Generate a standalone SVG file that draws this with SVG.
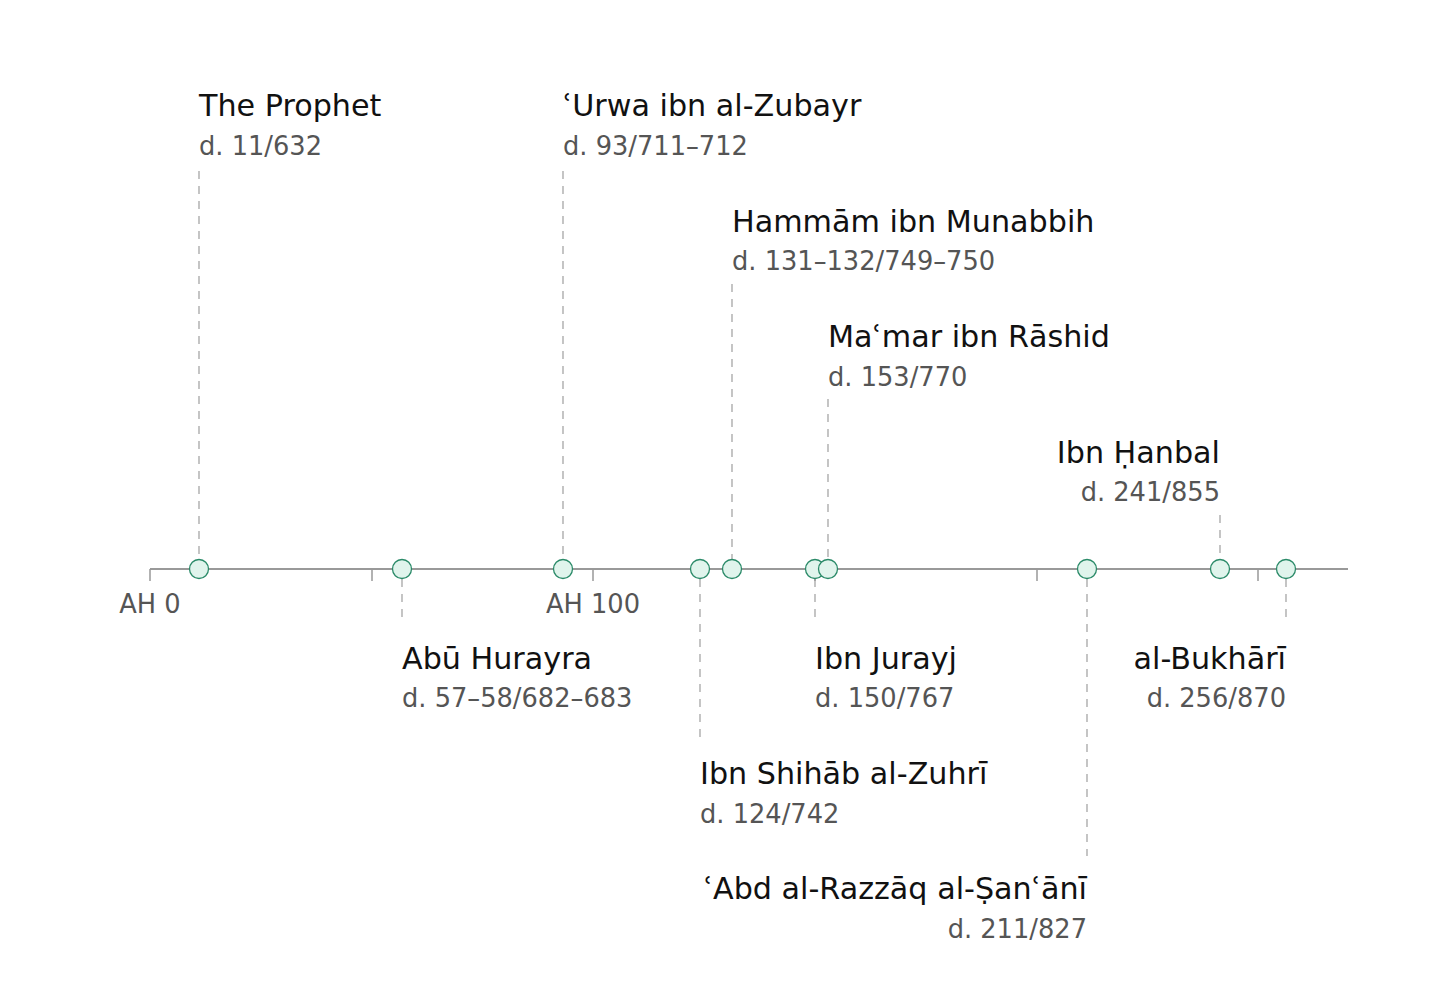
<svg xmlns="http://www.w3.org/2000/svg" width="1456" height="989" viewBox="0 0 1456 989">
<style>
.t{font-family:"DejaVu Sans",sans-serif;font-size:30.2px;fill:#111}
.s{font-family:"DejaVu Sans",sans-serif;font-size:25.7px;fill:#555}
.ax{font-family:"DejaVu Sans",sans-serif;font-size:25.7px;fill:#555;text-anchor:middle}
.e{text-anchor:end}
.d{stroke:#a6a6a6;stroke-width:1.3;stroke-dasharray:8,7;fill:none}
.tk{stroke:#999;stroke-width:1.5}
.c{fill:#e0f4ec;stroke:#2a8a68;stroke-width:1.3}
</style>
<rect width="1456" height="989" fill="#fff"/>
<g id="connectors">
<line class="d" x1="199" y1="171" x2="199" y2="560"/>
<line class="d" x1="563" y1="171" x2="563" y2="560"/>
<line class="d" x1="732" y1="284" x2="732" y2="560"/>
<line class="d" x1="828" y1="399" x2="828" y2="560"/>
<line class="d" x1="1220" y1="515" x2="1220" y2="560"/>
<line class="d" x1="402" y1="579" x2="402" y2="624"/>
<line class="d" x1="815" y1="579" x2="815" y2="624"/>
<line class="d" x1="1286" y1="579" x2="1286" y2="624"/>
<line class="d" x1="700" y1="579" x2="700" y2="740"/>
<line class="d" x1="1087" y1="579" x2="1087" y2="856"/>
</g>
<g id="axis">
<line x1="150" y1="569" x2="1348" y2="569" stroke="#999" stroke-width="2"/>
<line class="tk" x1="150" y1="569" x2="150" y2="581"/>
<line class="tk" x1="372" y1="569" x2="372" y2="581"/>
<line class="tk" x1="593" y1="569" x2="593" y2="581"/>
<line class="tk" x1="815" y1="569" x2="815" y2="581"/>
<line class="tk" x1="1037" y1="569" x2="1037" y2="581"/>
<line class="tk" x1="1258" y1="569" x2="1258" y2="581"/>
<text class="ax" x="150" y="613">AH 0</text>
<text class="ax" x="593" y="613">AH 100</text>
</g>
<g id="prophet"><circle class="c" cx="199" cy="569" r="9.5"/><text class="t" x="199" y="116">The Prophet</text><text class="s" x="199" y="155">d. 11/632</text></g>
<g id="abu-hurayra"><circle class="c" cx="402" cy="569" r="9.5"/><text class="t" x="402" y="669">Abū Hurayra</text><text class="s" x="402" y="707">d. 57–58/682–683</text></g>
<g id="urwa"><circle class="c" cx="563" cy="569" r="9.5"/><text class="t" x="563" y="116">ʿUrwa ibn al-Zubayr</text><text class="s" x="563" y="155">d. 93/711–712</text></g>
<g id="zuhri"><circle class="c" cx="700" cy="569" r="9.5"/><text class="t" x="700" y="784">Ibn Shihāb al-Zuhrī</text><text class="s" x="700" y="823">d. 124/742</text></g>
<g id="hammam"><circle class="c" cx="732" cy="569" r="9.5"/><text class="t" x="732" y="232">Hammām ibn Munabbih</text><text class="s" x="732" y="270">d. 131–132/749–750</text></g>
<g id="ibn-jurayj"><circle class="c" cx="815" cy="569" r="9.5"/><text class="t" x="815" y="669">Ibn Jurayj</text><text class="s" x="815" y="707">d. 150/767</text></g>
<g id="mamar"><circle class="c" cx="828" cy="569" r="9.5"/><text class="t" x="828" y="347">Maʿmar ibn Rāshid</text><text class="s" x="828" y="386">d. 153/770</text></g>
<g id="abd-al-razzaq"><circle class="c" cx="1087" cy="569" r="9.5"/><text class="t e" x="1087" y="899">ʿAbd al-Razzāq al-Ṣanʿānī</text><text class="s e" x="1087" y="938">d. 211/827</text></g>
<g id="ibn-hanbal"><circle class="c" cx="1220" cy="569" r="9.5"/><text class="t e" x="1220" y="463">Ibn Ḥanbal</text><text class="s e" x="1220" y="501">d. 241/855</text></g>
<g id="bukhari"><circle class="c" cx="1286" cy="569" r="9.5"/><text class="t e" x="1286" y="669">al-Bukhārī</text><text class="s e" x="1286" y="707">d. 256/870</text></g>
</svg>
